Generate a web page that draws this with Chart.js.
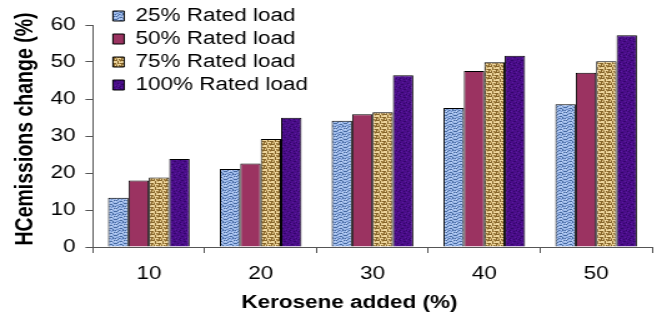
<!DOCTYPE html>
<html><head><meta charset="utf-8">
<script src="https://cdn.jsdelivr.net/npm/chart.js@4.4.1/dist/chart.umd.min.js"></script>
<style>
html,body{margin:0;padding:0;background:#fff;overflow:hidden;}
#wrap{width:530px;height:313px;transform:scaleX(1.2491);transform-origin:0 0;}
canvas{display:block;}
</style></head><body>
<div id="wrap"><canvas id="c" width="530" height="313"></canvas></div>
<script>
const categories = ['10', '20', '30', '40', '50'];
const load25 = [13.3, 21.1, 34.1, 37.6, 38.6];
const load50 = [18.0, 22.6, 35.9, 47.6, 47.1];
const load75 = [18.8, 29.2, 36.4, 49.9, 50.2];
const load100 = [23.8, 34.9, 46.4, 51.7, 57.2];
const seriesLabels = ['25% Rated load', '50% Rated load', '75% Rated load', '100% Rated load'];
const yTicks = [0, 10, 20, 30, 40, 50, 60];
const xTitle = 'Kerosene added (%)';
const yTitle = 'HCemissions change (%)';

const FONT = 'Liberation Sans, Arial, sans-serif';

function makePattern(size, base, layers) {
  const pc = document.createElement('canvas');
  pc.width = size; pc.height = size;
  const g = pc.getContext('2d');
  g.fillStyle = base; g.fillRect(0, 0, size, size);
  layers.forEach(([color, pts]) => {
    g.fillStyle = color;
    pts.forEach(([x, y]) => g.fillRect(x, y, 1, 1));
  });
  return document.getElementById('c').getContext('2d').createPattern(pc, 'repeat');
}
const bluePat = makePattern(8, '#9fbbea', [
  ['#46699f', [[0,1],[1,1],[3,0],[4,3],[5,3],[6,2],[2,5],[2,6],[7,6],[6,7],[4,6],[0,4],[1,4],[5,0],[3,3]]],
  ['#6f8fca', [[2,2],[7,1],[6,5],[1,7],[3,6],[5,5],[0,6],[4,0],[7,4]]],
  ['#c8d9f6', [[4,1],[7,3],[1,2],[5,7],[2,0]]]
]);
const tanPat = makePattern(6, '#edd59d', [
  ['#86652a', [[0,0],[1,0],[2,0],[3,0],[4,1],[4,2],[4,3],[0,3],[1,3],[2,3],[1,4],[1,5],[5,5],[3,5]]],
  ['#bf9d5c', [[5,0],[0,1],[2,4],[3,4],[5,3],[0,5]]]
]);
const purplePat = makePattern(8, '#4a0d88', [
  ['#32066a', [[0,0],[3,1],[4,1],[6,3],[1,4],[2,4],[5,6],[7,7],[3,7],[0,6]]],
  ['#5c19a3', [[2,2],[5,0],[7,4],[4,5],[1,7],[6,6]]]
]);
const maroon = '#9b3361';

const legendMover = {
  id: 'legendMover',
  afterLayout(chart) {
    const l = chart.legend;
    if (!l) return;
    const w = l.right - l.left, h = l.bottom - l.top;
    l.left = chart.chartArea.left + 11;
    l.right = l.left + w;
    l.top = 2;
    l.bottom = l.top + h;
  }
};

// axis titles, placed as in the source figure (slightly off the plot centre)
const titlesPlugin = {
  id: 'titlesPlugin',
  afterDraw(chart) {
    const ctx = chart.ctx;
    const xs = chart.scales.x, ys = chart.scales.y;
    ctx.save();
    ctx.fillStyle = '#000';
    ctx.textAlign = 'center';
    ctx.textBaseline = 'middle';
    ctx.font = 'bold 18px ' + FONT;
    ctx.fillText(xTitle, (xs.left + xs.right) / 2 - 18.5, xs.bottom - 10);
    ctx.translate(ys.left + 21, (ys.top + ys.bottom) / 2 - 7);
    ctx.rotate(-Math.PI / 2);
    ctx.font = 'bold 19.5px ' + FONT;
    ctx.fillText(yTitle, 0, 0);
    ctx.restore();
  }
};

new Chart(document.getElementById('c'), {
  type: 'bar',
  data: {
    labels: categories,
    datasets: [
      { label: seriesLabels[0], data: load25, backgroundColor: bluePat },
      { label: seriesLabels[1], data: load50, backgroundColor: maroon },
      { label: seriesLabels[2], data: load75, backgroundColor: tanPat },
      { label: seriesLabels[3], data: load100, backgroundColor: purplePat }
    ].map(d => Object.assign(d, { borderColor: '#000', borderWidth: 1, borderSkipped: 'bottom', barPercentage: 1, categoryPercentage: 0.73 }))
  },
  options: {
    responsive: false,
    animation: false,
    devicePixelRatio: 1,
    layout: { padding: { top: 25, left: 0, right: 8, bottom: 0 } },
    plugins: {
      tooltip: { enabled: false },
      legend: {
        position: 'chartArea',
        align: 'start',
        labels: {
          boxWidth: 9, boxHeight: 10, padding: 5, color: '#000',
          font: { family: FONT, size: 18 }
        }
      }
    },
    scales: {
      x: {
        grid: { display: true, drawOnChartArea: false, drawTicks: true, tickLength: 6, color: '#555', offset: true },
        border: { display: true, color: '#555', width: 1 },
        ticks: { color: '#000', padding: 10, font: { family: FONT, size: 18 } },
        title: { display: false, text: xTitle },
        afterFit(s) { s.height = 66; }
      },
      y: {
        min: 0, max: 60,
        afterBuildTicks(s) { s.ticks = yTicks.map(v => ({ value: v })); },
        grid: { display: true, drawOnChartArea: false, drawTicks: true, tickLength: 6, color: '#555' },
        border: { display: true, color: '#555', width: 1 },
        ticks: { color: '#000', padding: 8, font: { family: FONT, size: 18 } },
        title: { display: false, text: yTitle },
        afterFit(s) { s.width = 74.4; }
      }
    }
  },
  plugins: [legendMover, titlesPlugin]
});
</script>
</body></html>
